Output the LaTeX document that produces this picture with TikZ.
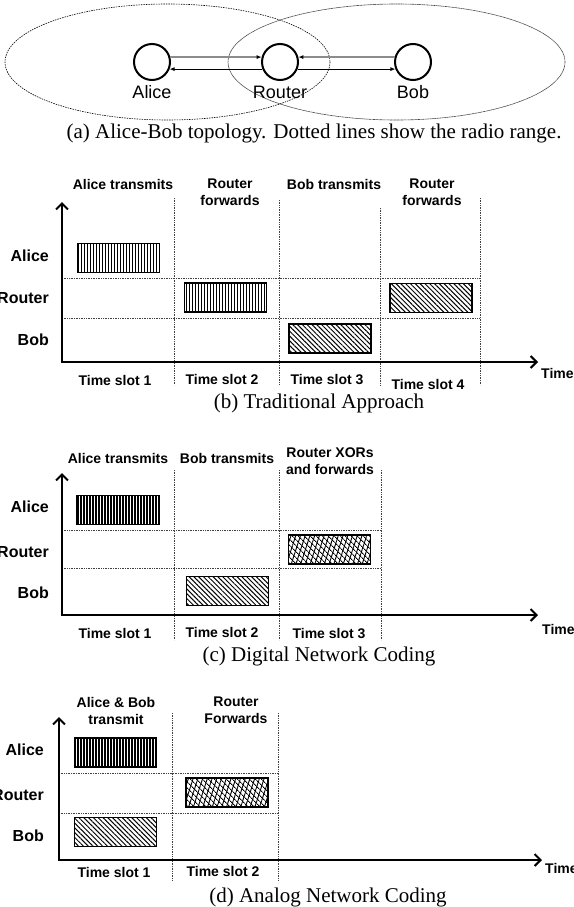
\documentclass[tikz,border=0pt]{standalone}
\usepackage{fontspec}
\setmainfont{Liberation Serif}
\setsansfont{Liberation Sans}
\usetikzlibrary{positioning, arrows.meta, patterns.meta}

\tikzset{
  station/.style={circle, draw, line width=2pt, minimum size=36pt, inner sep=0pt},
  stationname/.style={font=\sffamily\fontsize{18}{20}\selectfont, inner sep=1pt, text height=13pt, text depth=0pt},
  caption/.style={font=\fontsize{21}{24}\selectfont},
  colhead/.style={font=\sffamily\bfseries\fontsize{14}{17}\selectfont, align=center, anchor=north, inner sep=0pt},
  rowhead/.style={font=\sffamily\bfseries\fontsize{16}{18}\selectfont, anchor=east, inner sep=0pt},
  slotname/.style={font=\sffamily\bfseries\fontsize{14}{16}\selectfont},
  gridline/.style={densely dotted, line width=0.7pt, black!75},
  timeaxis/.style={line width=2pt, {Straight Barb[length=6pt,width=12pt,line width=2pt]}-{Straight Barb[length=6pt,width=12pt,line width=2pt]}},
  pkt/.style={draw, line width=1.5pt, minimum width=82pt, minimum height=29pt, inner sep=0pt},
  alicepkt/.style={pkt, pattern={Lines[angle=90,distance=3pt,line width=0.7pt]}},
  alicepktdark/.style={pkt, pattern={Lines[angle=90,distance=3pt,line width=1.2pt]}},
  bobpkt/.style={pkt, pattern={Lines[angle=-45,distance=3.4pt,line width=1pt]}},
  xorpkt/.style={pkt, pattern={Lines[angle=-45,distance=4pt,line width=0.9pt]},
    postaction={pattern={Lines[angle=72,distance=4.5pt,line width=0.9pt]}}},
  link/.style={line width=0.8pt, -{Latex[length=5pt,width=4pt]}},
  uplink/.style={line width=1.3pt, black!45, -{Latex[length=5pt,width=4pt,color=black]}}
}

\begin{document}
\begin{tikzpicture}[x=1pt, y=-1pt]
\useasboundingbox (0,0) rectangle (573,907);

% (a) topology
\draw[dash pattern=on 1.5pt off 1pt, line width=0.6pt] (167.5,62) ellipse [x radius=162.5, y radius=58];
\draw[dash pattern=on 1pt off 0.4pt, line width=0.6pt, black!75] (396.5,62) ellipse [x radius=168.5, y radius=58];
\node[station] (alice) at (152,62) {};
\node[station] (router) at (280,62) {};
\node[station] (bob) at (413,62) {};
\node[stationname, below=3pt of alice] (alicename) {Alice};
\node[stationname, below=3pt of router] (routername) {Router};
\node[stationname, below=3pt of bob] (bobname) {Bob};
\draw[uplink] (alice.15) -- (router.165);
\draw[uplink] (bob.165) -- (router.15);
\draw[link] (router.202) -- (alice.-22);
\draw[link] (router.-22) -- (bob.202);
\node[caption] (capa) at (314,133) {(a) Alice-Bob topology. Dotted lines show the radio range.};

% (b) traditional approach
\foreach \x/\t in {174/198, 279/200, 380/208, 480/198}
  \draw[gridline] (\x,\t) -- (\x,385);
\foreach \y in {278, 318}
  \draw[gridline] (62,\y) -- (480,\y);
\coordinate (bo) at (62,362);
\coordinate (btop) at (62,202);
\coordinate (bend) at (538,362);
\draw[timeaxis] (btop) -- (bo) -- (bend);
\node[slotname, anchor=west, inner sep=0pt] (btime) at (541,373) {Time};
\node[rowhead] (balice) at (49,256) {Alice};
\node[rowhead] (brouter) at (49,298) {Router};
\node[rowhead] (bbob) at (49,340) {Bob};
\node[colhead] (bh1) at (123,179) {Alice transmits};
\node[colhead] (bh2) at (230,179) {Router\\forwards};
\node[colhead] (bh3) at (334,179) {Bob transmits};
\node[colhead] (bh4) at (432,179) {Router\\forwards};
\node[alicepkt] (bp1) at (118.5,258) {};
\node[alicepkt] (bp2) at (225.5,297.5) {};
\node[bobpkt] (bp3) at (330,338.5) {};
\node[bobpkt] (bp4) at (431,298) {};
\node[slotname] (bs1) at (115,380) {Time slot 1};
\node[slotname] (bs2) at (222,379) {Time slot 2};
\node[slotname] (bs3) at (327,380) {Time slot 3};
\node[slotname] (bs4) at (428,384) {Time slot 4};
\node[caption] (capb) at (319,403) {(b) Traditional Approach};

% (c) digital network coding
\foreach \x in {174, 279, 381}
  \draw[gridline] (\x,470) -- (\x,640);
\foreach \y in {530, 568}
  \draw[gridline] (62,\y) -- (381,\y);
\coordinate (co) at (62,615);
\coordinate (ctop) at (62,473);
\coordinate (cend) at (538,615);
\draw[timeaxis] (ctop) -- (co) -- (cend);
\node[slotname, anchor=west, inner sep=0pt] (ctime) at (542,629) {Time};
\node[rowhead] (calice) at (49,507) {Alice};
\node[rowhead] (crouter) at (49,552) {Router};
\node[rowhead] (cbob) at (49,593) {Bob};
\node[colhead] (ch1) at (118,453) {Alice transmits};
\node[colhead] (ch2) at (227,453) {Bob transmits};
\node[colhead] (ch3) at (330,448) {Router XORs\\and forwards};
\node[alicepktdark] (cp1) at (118,510) {};
\node[bobpkt] (cp2) at (227.5,591) {};
\node[xorpkt] (cp3) at (329.5,549.5) {};
\node[slotname] (cs1) at (115,633) {Time slot 1};
\node[slotname] (cs2) at (222,632) {Time slot 2};
\node[slotname] (cs3) at (329,633) {Time slot 3};
\node[caption] (capc) at (319,656) {(c) Digital Network Coding};

% (d) analog network coding
\foreach \x in {172, 278}
  \draw[gridline] (\x,713) -- (\x,880);
\foreach \y in {773, 813}
  \draw[gridline] (59,\y) -- (278,\y);
\coordinate (do) at (59,860);
\coordinate (dtop) at (59,717);
\coordinate (dend) at (542,860);
\draw[timeaxis] (dtop) -- (do) -- (dend);
\node[slotname, anchor=west, inner sep=0pt] (dtime) at (545,868) {Time};
\node[rowhead] (dalice) at (44,750) {Alice};
\node[rowhead] (drouter) at (44,795) {Router};
\node[rowhead] (dbob) at (44,836) {Bob};
\node[colhead] (dh1) at (116,697) {Alice \& Bob\\transmit};
\node[colhead] (dh2) at (236,697) {Router\\Forwards};
\node[alicepktdark] (dp1) at (115.5,752.5) {};
\node[xorpkt] (dp2) at (227,792.5) {};
\node[bobpkt] (dp3) at (115.5,832) {};
\node[slotname] (ds1) at (114,872) {Time slot 1};
\node[slotname] (ds2) at (223,871) {Time slot 2};
\node[caption] (capd) at (328,897) {(d) Analog Network Coding};
\end{tikzpicture}
\end{document}
